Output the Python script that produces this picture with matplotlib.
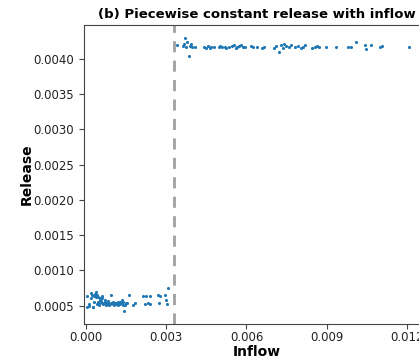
import matplotlib
matplotlib.use("Agg")
import matplotlib.pyplot as plt
import numpy as np

# Low-release regime (inflow below threshold)
low_inflow = [0.000025, 0.00005, 0.000124, 0.000186, 0.000236, 0.000248, 0.000273, 0.000298,
              0.000335, 0.00036, 0.000373, 0.000398, 0.000422, 0.00046, 0.000485, 0.000497,
              0.000522, 0.000547, 0.000584, 0.000609, 0.000646, 0.000671, 0.000708, 0.000745,
              0.00077, 0.000795, 0.000832, 0.00087, 0.000894, 0.000932, 0.000957, 0.000994,
              0.001019, 0.001056, 0.001081, 0.001118, 0.001143, 0.001168, 0.001205, 0.001242,
              0.001267, 0.001292, 0.001329, 0.001367, 0.001391, 0.001429, 0.001454, 0.001491,
              0.00154, 0.001615, 0.001764, 0.001826, 0.002137, 0.002199, 0.002261, 0.002323,
              0.002385, 0.00241, 0.002696, 0.002733, 0.002758, 0.002944, 0.002982, 0.003031,
              0.003069, 0.00010, 0.00031, 0.00044, 0.00059, 0.00072, 0.00101, 0.00121, 0.00137,
              0.00021, 0.00053, 0.00083]
low_release = [0.000635, 0.000483, 0.000498, 0.000682, 0.000649, 0.000474, 0.000483, 0.000635,
               0.000663, 0.000616, 0.000696, 0.000521, 0.000649, 0.000625, 0.00054, 0.000507,
               0.000602, 0.000568, 0.000531, 0.000639, 0.000521, 0.00054, 0.000554, 0.000507,
               0.00054, 0.000521, 0.000531, 0.000507, 0.000521, 0.000649, 0.000531, 0.00054,
               0.000521, 0.000507, 0.000531, 0.000521, 0.00054, 0.000521, 0.000507, 0.000531,
               0.000554, 0.000521, 0.00054, 0.000578, 0.000554, 0.000427, 0.000507, 0.00054,
               0.000531, 0.000649, 0.000507, 0.000531, 0.000635, 0.000521, 0.000635, 0.000531,
               0.000635, 0.000521, 0.000649, 0.000531, 0.000635, 0.000649, 0.000578, 0.000521,
               0.000743, 0.000515, 0.000555, 0.000545, 0.000612, 0.000585, 0.000555, 0.000548,
               0.000512, 0.000605, 0.000575, 0.000565]

# High-release regime (inflow above threshold)
high_inflow = [0.003391, 0.003615, 0.003652, 0.00369, 0.003727, 0.003764, 0.003839, 0.003876,
               0.003913, 0.003951, 0.004062, 0.004398, 0.004472, 0.004547, 0.004621, 0.004659,
               0.00477, 0.004957, 0.004994, 0.005069, 0.005181, 0.005218, 0.00533, 0.005441,
               0.005516, 0.005591, 0.005628, 0.005702, 0.005777, 0.005851, 0.005926, 0.006187,
               0.006261, 0.00641, 0.006597, 0.006671, 0.007044, 0.007119, 0.00723, 0.007305,
               0.007379, 0.007417, 0.007491, 0.007603, 0.007678, 0.007827, 0.007939, 0.00805,
               0.008125, 0.0082, 0.00846, 0.008572, 0.008647, 0.008721, 0.008982, 0.009355,
               0.009802, 0.009914, 0.0101, 0.010436, 0.010474, 0.010659, 0.010995, 0.011069,
               0.012075]
high_release = [0.004198, 0.004189, 0.004215, 0.004297, 0.004175, 0.004245, 0.004040, 0.004189,
                0.004215, 0.004175, 0.004166, 0.004175, 0.004160, 0.004189, 0.004160, 0.004166,
                0.004166, 0.004175, 0.004189, 0.004166, 0.004166, 0.004150, 0.004175, 0.004189,
                0.004198, 0.004160, 0.004166, 0.004189, 0.004198, 0.004175, 0.004166, 0.004189,
                0.004175, 0.004166, 0.004150, 0.004166, 0.004160, 0.004189, 0.004099, 0.004198,
                0.004160, 0.004215, 0.004189, 0.004166, 0.004198, 0.004166, 0.004189, 0.004160,
                0.004175, 0.004198, 0.004160, 0.004166, 0.004189, 0.004175, 0.004166, 0.004166,
                0.004175, 0.004175, 0.004245, 0.004194, 0.004137, 0.004198, 0.004175, 0.004189,
                0.004166]

threshold = 0.00331
xticks = [0.000, 0.003, 0.006, 0.009, 0.012]
yticks = [0.0005, 0.0010, 0.0015, 0.0020, 0.0025, 0.0030, 0.0035, 0.0040]

W, H = 419, 359
fig = plt.figure(figsize=(W / 100, H / 100), dpi=100)
ax = fig.add_axes([84 / W, 1 - 324 / H, (430 - 84) / W, (324 - 25) / H])

ax.scatter(low_inflow, low_release, s=5, color="#1f77b4", linewidths=0)
ax.scatter(high_inflow, high_release, s=5, color="#1f77b4", linewidths=0)
ax.axvline(threshold, color="#a0a0a0", linestyle="--", linewidth=2, dashes=(4, 3))

ax.set_xlim(-0.00007, 0.012855)
ax.set_ylim(0.000238, 0.004482)
ax.set_xticks(xticks)
ax.set_xticklabels([f"{v:.3f}" for v in xticks])
ax.set_yticks(yticks)
ax.set_yticklabels([f"{v:.4f}" for v in yticks])
ax.tick_params(labelsize=8.5, length=3.5, color="#444444", labelcolor="#222222")
ax.tick_params(axis="x", pad=1.5)
for sp in ax.spines.values():
    sp.set_color("#444444")

ax.set_xlabel("Inflow", fontsize=10, fontweight="bold", labelpad=1)
ax.set_ylabel("Release", fontsize=10, fontweight="bold", labelpad=0)
ax.set_title("(b) Piecewise constant release with inflow", fontsize=9.5, fontweight="bold", pad=5)

fig.savefig("out.png", dpi=100)
